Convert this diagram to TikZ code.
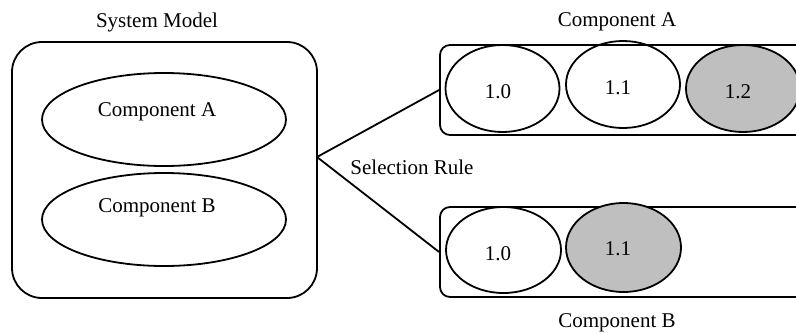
\documentclass[tikz,border=0pt]{standalone}
\usepackage{fontspec}
\setmainfont{Liberation Serif}
\usetikzlibrary{shapes.geometric}
\tikzset{
  px/.style={x=0.5pt,y=-0.5pt,line width=0.9pt},
  txt/.style={font=\fontsize{10.5}{12}\selectfont,inner sep=0},
  sysbox/.style={draw,rounded corners=15pt,minimum width=152.5pt,minimum height=128pt},
  verbox/.style={draw,rounded corners=5pt,minimum width=183pt,minimum height=45pt},
  comp/.style={draw,ellipse,inner sep=0,minimum width=122pt,minimum height=46.5pt},
  ver/.style={draw,ellipse,inner sep=0,minimum width=57pt,minimum height=43.5pt},
  sel/.style={ver,fill=black!25}
}

\begin{document}
\begin{tikzpicture}[px]
    \clip (0,0) rectangle (796,333);

    % system model
    \node[sysbox] (sys) at (164.5,170) {};
    \node[txt] (systitle) at (157,22) {System Model};
    \node[comp] (sysA) at (164,119.5) {};
    \node[txt] (sysAname) at (157,112) {Component A};
    \node[comp] (sysB) at (164,219.5) {};
    \node[txt] (sysBname) at (157,208) {Component B};

    % component A versions
    \node[verbox] (boxA) at (623,90) {};
    \node[txt] (boxAname) at (617,22) {Component A};
    \node[ver] (a10) at (502.5,88.5) {};
    \node[txt] at (498,92) {1.0};
    \node[ver] (a11) at (623,84.5) {};
    \node[txt] at (618,88) {1.1};
    \node[sel] (a12) at (743,88.5) {};
    \node[txt] at (738,92) {1.2};

    % component B versions
    \node[verbox] (boxB) at (623,252) {};
    \node[txt] (boxBname) at (617,323) {Component B};
    \node[ver,minimum width=57.5pt,minimum height=43pt] (b10) at (503.5,250) {};
    \node[txt] at (498,254) {1.0};
    \node[sel,minimum width=57.5pt,minimum height=44.5pt] (b11) at (623.5,247.5) {};
    \node[txt] at (618,249) {1.1};

    % selection rule
    \coordinate (rule) at (317,157);
    \draw (rule) -- (boxA.west);
    \draw (rule) -- (boxB.west);
    \node[txt] (rulename) at (412,167) {Selection Rule};
\end{tikzpicture}
\end{document}
